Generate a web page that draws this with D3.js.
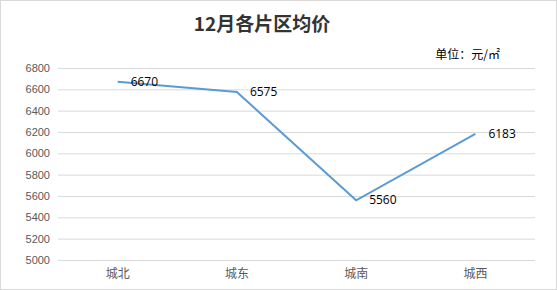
<!DOCTYPE html>
<html>
<head>
<meta charset="utf-8">
<script src="https://cdn.jsdelivr.net/npm/d3@7"></script>
<style>
  body { margin: 0; background: #fff; }
  svg { display: block; font-family: "Open Sans", "Noto Sans CJK SC", sans-serif; }
</style>
</head>
<body>
<svg id="chart" width="557" height="290"></svg>
<script>
var categories = ['城北', '城东', '城南', '城西'];
var prices = [6670, 6575, 5560, 6183];
var yTicks = [5000, 5200, 5400, 5600, 5800, 6000, 6200, 6400, 6600, 6800];
var title = '12月各片区均价';
var unitLabel = '单位：元/㎡';

var margin = { top: 68, right: 22, bottom: 30, left: 58 };
var width = 557 - margin.left - margin.right;
var height = 290 - margin.top - margin.bottom;

var svg = d3.select('#chart');

svg.append('rect')
    .attr('x', 0.5).attr('y', 0.5)
    .attr('width', 556).attr('height', 289)
    .attr('fill', '#fff')
    .attr('stroke', '#d9d9d9');

svg.append('text')
    .attr('x', 262).attr('y', 31)
    .attr('text-anchor', 'middle')
    .attr('font-size', 19)
    .attr('font-weight', 'bold')
    .attr('fill', '#333')
    .attr('font-family', '"Noto Sans CJK SC", sans-serif')
    .text(title);

svg.append('text')
    .attr('x', 500).attr('y', 59)
    .attr('text-anchor', 'end')
    .attr('font-size', 12)
    .attr('fill', '#000')
    .attr('font-family', '"Noto Sans CJK SC", sans-serif')
    .text(unitLabel);

var g = svg.append('g')
    .attr('transform', 'translate(' + margin.left + ',' + margin.top + ')');

var x = d3.scaleBand()
    .domain(categories)
    .range([0, width]);

var y = d3.scaleLinear()
    .domain([5000, 6800])
    .range([height, 0]);

var yAxis = d3.axisLeft(y)
    .tickValues(yTicks)
    .tickFormat(d3.format('d'))
    .tickSize(-width)
    .tickPadding(8);

g.append('g')
    .attr('class', 'y axis')
    .call(yAxis)
    .call(function(a) {
      a.select('.domain').remove();
      a.selectAll('line').attr('stroke', '#d9d9d9');
      a.selectAll('text').attr('fill', '#595959').attr('font-size', 11);
    });

var xAxis = d3.axisBottom(x).tickSize(0).tickPadding(9);

g.append('g')
    .attr('class', 'x axis')
    .attr('transform', 'translate(0,' + height + ')')
    .call(xAxis)
    .call(function(a) {
      a.select('.domain').remove();
      a.selectAll('text')
        .attr('fill', '#595959')
        .attr('font-size', 12)
        .attr('font-family', '"Noto Sans CJK SC", sans-serif');
    });

var line = d3.line()
    .x(function(d, i) { return x(categories[i]) + x.bandwidth() / 2; })
    .y(function(d) { return y(d); });

g.append('path')
    .datum(prices)
    .attr('fill', 'none')
    .attr('stroke', '#5b9bd5')
    .attr('stroke-width', 2)
    .attr('d', line);

g.selectAll('.label')
    .data(prices)
    .enter().append('text')
    .attr('class', 'label')
    .attr('x', function(d, i) { return x(categories[i]) + x.bandwidth() / 2 + 13; })
    .attr('y', function(d) { return y(d); })
    .attr('dy', '0.35em')
    .attr('font-size', 12)
    .attr('fill', '#000')
    .text(function(d) { return d; });
</script>
</body>
</html>
